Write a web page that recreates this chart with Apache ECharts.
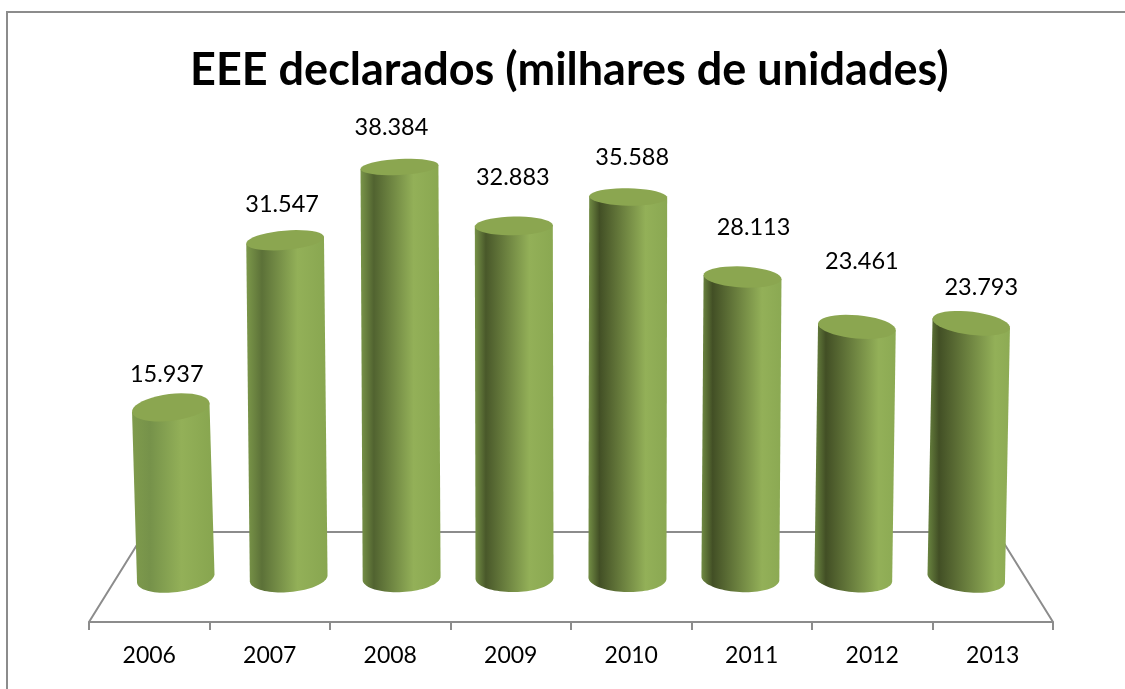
<!DOCTYPE html>
<html>
<head>
<meta charset="utf-8">
<style>
  html, body { margin: 0; padding: 0; background: #fff; }
  #chart { width: 1125px; height: 689px; }
</style>
</head>
<body>
<div id="chart"></div>
<script src="https://cdn.jsdelivr.net/npm/echarts@6/dist/echarts.min.js"></script>
<script>
const categories = ['2006', '2007', '2008', '2009', '2010', '2011', '2012', '2013'];
const declared = [15937, 31547, 38384, 32883, 35588, 28113, 23461, 23793];

// hand placed data labels, offset from the cylinder top
const labelNudge = [
  [-4, -33], [-3, -36], [-8, -40], [-1, -49],
  [4, -40], [11, -50], [5, -65], [10, -36],
];

const AXIS_COLOR = '#8c8c8c';
const FONT = 'Lato, "Open Sans", sans-serif';
const RX = 39;

function mix(a, b, t) {
  const ca = a.match(/\w\w/g).map(h => parseInt(h, 16));
  const cb = b.match(/\w\w/g).map(h => parseInt(h, 16));
  return 'rgb(' + ca.map((c, i) => Math.round(c + (cb[i] - c) * t)).join(',') + ')';
}

function arc(cx, cy, ry, rot, from, to) {
  const pts = [];
  for (let i = 0; i <= 40; i++) {
    const a = from + (to - from) * i / 40;
    const ex = RX * Math.cos(a);
    const ey = ry * Math.sin(a);
    pts.push([cx + ex * Math.cos(rot) - ey * Math.sin(rot), cy + ex * Math.sin(rot) + ey * Math.cos(rot)]);
  }
  return pts;
}

function renderFloor(params) {
  const g = params.coordSys;
  const bottom = g.y + g.height;
  const back = bottom - 90;
  return {
    type: 'polyline',
    shape: { points: [[g.x, bottom], [g.x + 56, back], [g.x + g.width - 56, back], [g.x + g.width, bottom]] },
    style: { fill: null, stroke: AXIS_COLOR, lineWidth: 2 },
  };
}

function renderCylinder(params, api) {
  const i = api.value(0);
  const g = params.coordSys;
  const mid = g.x + g.width / 2;
  const top = api.coord([i, api.value(1)]);
  const base = api.coord([i, 0]);
  // depth pulls the columns toward the middle of the floor
  const cx = mid + (top[0] - mid) * 0.949;
  const lean = -(cx - mid) / 80;
  const rot = (cx - mid) / 400 * 7 * Math.PI / 180;
  const ryTop = 8 + (top[1] - 167) * 0.0225;
  const ryBase = 14;
  const t = i / 7;
  const side = arc(cx + lean, base[1], ryBase, rot, 0, Math.PI);
  side.unshift([cx + RX * Math.cos(rot), top[1] + RX * Math.sin(rot)]);
  side.push([cx - RX * Math.cos(rot), top[1] - RX * Math.sin(rot)]);
  const n = labelNudge[i];
  return {
    type: 'group',
    children: [
      {
        type: 'polygon',
        shape: { points: side },
        style: {
          fill: new echarts.graphic.LinearGradient(0, 0, 1, 0, [
            { offset: 0, color: mix('7f9b4c', '6a8540', t) },
            { offset: 0.22 - 0.08 * Math.min(1, i / 3), color: mix('76924a', '424f25', Math.min(1, Math.sqrt(i / 4))) },
            { offset: 0.6 + 0.22 * t, color: '#93b058' },
            { offset: 1, color: mix('87a54f', '8dab54', t) },
          ]),
        },
      },
      {
        type: 'polygon',
        shape: { points: arc(cx, top[1], ryTop, rot, 0, Math.PI * 2) },
        style: { fill: '#8ba650' },
      },
      {
        type: 'text',
        x: cx + n[0],
        y: top[1] + n[1],
        style: {
          text: String(api.value(1)).replace(/(\d)(\d{3})$/, '$1.$2'),
          fill: '#000',
          font: '23.5px ' + FONT,
          align: 'center',
          verticalAlign: 'middle',
        },
      },
    ],
  };
}

const mychart = echarts.init(document.getElementById('chart'));
mychart.setOption({
  animation: false,
  title: {
    text: 'EEE declarados (milhares de unidades)',
    left: 185,
    top: 43,
    textStyle: { color: '#000', fontFamily: FONT, fontWeight: 'bold', fontSize: 45 },
  },
  graphic: [
    {
      type: 'rect',
      silent: true,
      shape: { x: 7, y: 12, width: 1140, height: 700 },
      style: { fill: null, stroke: AXIS_COLOR, lineWidth: 2 },
    },
  ],
  grid: { left: 89, right: 72, top: 128.3, bottom: 67 },
  xAxis: {
    type: 'category',
    data: categories,
    axisLine: { onZero: false, lineStyle: { color: AXIS_COLOR, width: 2 } },
    axisTick: { show: true, alignWithLabel: false, length: 8, lineStyle: { color: AXIS_COLOR, width: 2 } },
    axisLabel: { color: '#000', fontFamily: FONT, fontSize: 23, margin: 22 },
  },
  yAxis: {
    type: 'value',
    show: false,
    min: -4100,
    max: 42000,
    splitLine: { show: false },
  },
  series: [
    {
      type: 'custom',
      name: 'floor',
      z: 1,
      silent: true,
      renderItem: renderFloor,
      data: [0],
    },
    {
      type: 'custom',
      name: 'EEE declarados',
      z: 2,
      renderItem: renderCylinder,
      encode: { x: 0, y: 1 },
      data: declared.map((v, i) => [i, v]),
    },
  ],
});
</script>
</body>
</html>
